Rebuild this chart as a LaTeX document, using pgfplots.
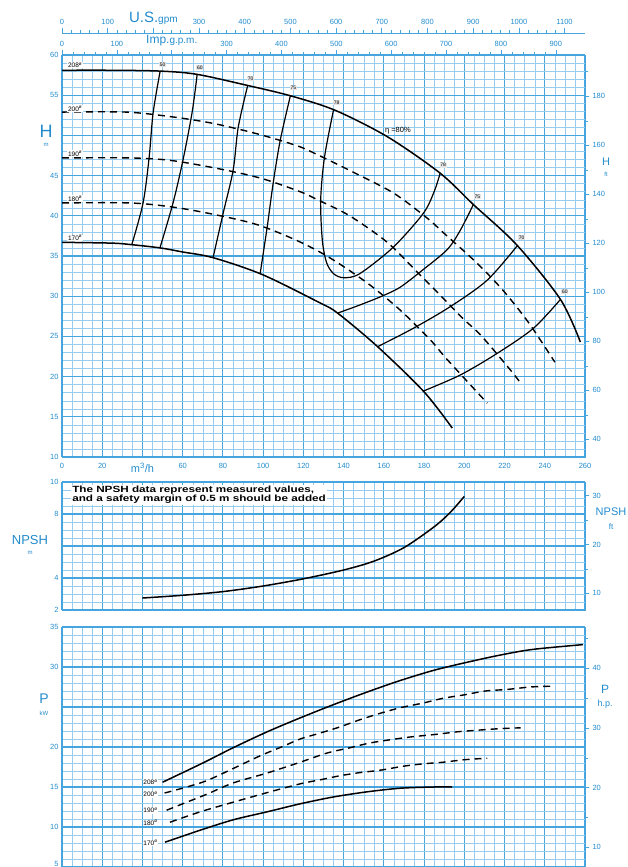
\documentclass[border=0pt]{standalone}
\usepackage{pgfplots}
\pgfplotsset{compat=1.18}
\usepackage{fontspec}
\setmainfont{Liberation Sans}

\definecolor{gmaj}{RGB}{70,165,222}
\definecolor{gmin}{RGB}{150,205,238}
\definecolor{lbl}{RGB}{35,140,205}

\tikzset{
  lab/.style={font=\fontsize{6.5}{6.5}\selectfont, fill=white, inner sep=0.8pt},
  elab/.style={font=\fontsize{5}{5}\selectfont, fill=gray!20, inner sep=0.7pt},
}
\pgfplotsset{
  panel/.style={
    scale only axis, width=523pt, xmin=0, xmax=260,
    grid=both,
    major grid style={draw=gmaj, line width=1.05pt},
    minor grid style={draw=gmin, line width=0.4pt},
    axis line style={draw=gmaj, line width=0.9pt},
    major tick length=0pt, minor tick length=0pt,
    xtick={0,20,...,260}, minor x tick num=3,
    xtick pos=bottom, ytick pos=left,
    ticklabel style={font=\fontsize{7.5}{8}\selectfont, text=lbl},
    xticklabel style={yshift=-2.5pt},
    clip mode=individual,
  },
  side/.style={
    scale only axis, width=523pt, xmin=0, xmax=260,
    axis x line=none, axis y line*=right,
    axis line style={draw=none},
    tick align=outside, major tick length=4pt, minor tick length=3pt,
    tick style={draw=gmaj, line width=0.6pt},
    ticklabel style={font=\fontsize{7.5}{8}\selectfont, text=lbl},
  },
  topscale/.style={
    scale only axis, width=523pt, height=20pt, ymin=0, ymax=1,
    axis x line*=top, axis y line=none,
    axis line style={draw=gmaj, line width=0.8pt},
    tick align=outside, major tick length=5pt, minor tick length=3pt,
    tick style={draw=gmaj, line width=0.6pt},
    minor x tick num=4,
    ticklabel style={font=\fontsize{7.5}{8}\selectfont, text=lbl},
  },
  head/.style={black, line width=1.5pt, smooth},
  headd/.style={black, line width=1.4pt, smooth, dash pattern=on 7pt off 5pt},
  eff/.style={black, line width=1.2pt, smooth},
}

\begin{document}
\begin{tikzpicture}[x=1pt,y=1pt]
\useasboundingbox (0,0) rectangle (627,-867);

% ---- flow scales on top
\begin{axis}[topscale, at={(62pt,-33pt)}, anchor=north west,
  xmin=0, xmax=1144.8, xtick={0,100,...,1100},
  xticklabels={0,100,{\fontsize{15}{15}\selectfont U.S.\fontsize{10}{10}\selectfont gpm},300,400,500,600,700,800,900,1000,1100}]
\end{axis}
\begin{axis}[topscale, at={(62pt,-55pt)}, anchor=north west,
  xmin=0, xmax=953.2, xtick={0,100,...,900},
  xticklabels={0,100,{\fontsize{12}{12}\selectfont Imp.\fontsize{10}{10}\selectfont g.p.m.},300,400,500,600,700,800,900}]
\end{axis}

% ---- head
\begin{axis}[panel, at={(62pt,-457pt)}, anchor=south west, height=402pt,
  ymin=10, ymax=60, ytick={10,15,...,60},
  yticklabels={10,15,20,25,30,35,40,45,,55,60}, minor y tick num=4,
  xticklabels={0,20,{\fontsize{11}{11}\selectfont m\textsuperscript{3}/h},60,80,100,120,140,160,180,200,220,240,260}]
% head curves
\addplot[head] coordinates {(0,58.1) (25,58.1) (48.8,58.0) (67,57.6) (92.5,56.2) (114,54.9) (136,53.1) (162,49.8) (188,45.3) (204.5,41.4) (226,36.4) (247.8,29.6) (257.7,24.3)};
\addplot[headd] coordinates {(0,52.9) (32,52.9) (55,52.3) (75,51.5) (97,50.2) (117,48.7) (127,47.6) (145,45.4) (165,42.8) (181.6,39.7) (189.6,37.9) (205.5,34.3) (219,30.8) (232,26.7) (245,21.8)};
\addplot[headd] coordinates {(0,47.2) (33.8,47.2) (53.7,46.9) (77,45.9) (98.5,44.7) (118.4,43.0) (127,42.0) (143,40.0) (161.7,36.7) (176.6,33.0) (184.6,31.0) (199,27.3) (208,25.2) (222,21.1) (228,19.2)};
\addplot[headd] coordinates {(0,41.6) (33.8,41.6) (54.7,41.1) (75,40.2) (97,38.9) (117,36.9) (133,34.8) (152,31.6) (168,28.3) (183,24.6) (190.5,22.4) (205.5,18.3) (211.4,16.7)};
\addplot[head] coordinates {(0,36.7) (25,36.6) (35,36.4) (49,36.0) (60,35.5) (75,34.8) (99.5,32.7) (128,29.2) (137,27.9) (157,23.7) (180,18.1) (194,13.6)};
% efficiency
\addplot[eff] coordinates {(48.8,58.0) (45.3,52.8) (43.3,47.2) (40.3,41.6) (34.8,36.5)};
\addplot[eff] coordinates {(67.2,57.6) (64.7,52.9) (60.2,47.0) (55.2,41.6) (48.8,36.1)};
\addplot[eff] coordinates {(92.3,56.2) (87.6,51.0) (85.1,45.7) (80.1,40.3) (75.1,34.8)};
\addplot[eff] coordinates {(113.6,55.0) (108.5,49.4) (105.0,44.1) (102.0,38.6) (98.5,32.8)};
\addplot[eff] coordinates {(135,53.2) (130.5,47.3) (128.6,42.0) (129.4,37.0) (131.5,34.2) (135,32.8) (140,32.3) (148,32.8) (164.7,36.1) (179.6,40.3) (185,43.0) (188,45.3)};
\addplot[eff] coordinates {(204.5,41.4) (198,38.2) (191.5,35.8) (179,33.2) (168,31.1) (159,30.0) (148,28.9) (137,27.9)};
\addplot[eff] coordinates {(226.4,36.3) (211.4,32.0) (193,28.7) (174.6,26.0) (156.7,23.7)};
\addplot[eff] coordinates {(247.8,29.6) (234.3,26.0) (216.4,22.9) (198,20.2) (179.6,18.2)};
% labels
\node[lab, anchor=south west] at (axis cs:2.5,58.3) {208\textsuperscript{ø}};
\node[lab, anchor=south west] at (axis cs:2.5,52.9) {200\textsuperscript{ø}};
\node[lab, anchor=south west] at (axis cs:2.5,47.3) {190\textsuperscript{ø}};
\node[lab, anchor=south west] at (axis cs:2.5,41.7) {180\textsuperscript{ø}};
\node[lab, anchor=south west] at (axis cs:2.5,36.8) {170\textsuperscript{ø}};
\node[elab] at (axis cs:50,58.8) {50};
\node[elab] at (axis cs:68.5,58.4) {60};
\node[elab] at (axis cs:93.8,57.1) {70};
\node[elab] at (axis cs:115,55.9) {75};
\node[elab] at (axis cs:136.5,54.1) {78};
\node[anchor=west, font=\fontsize{7.5}{7.5}\selectfont, inner sep=0pt] at (axis cs:160.5,50.6) {η =80\%};
\node[elab] at (axis cs:189.5,46.3) {78};
\node[elab] at (axis cs:206.5,42.4) {75};
\node[elab] at (axis cs:228.5,37.3) {70};
\node[elab] at (axis cs:250,30.6) {60};
\end{axis}
\begin{axis}[side, at={(62pt,-457pt)}, anchor=south west, height=402pt,
  ymin=32.808, ymax=196.85, ytick={40,60,...,180}, minor ytick={50,70,...,190},
  yticklabels={40,60,80,100,120,140,160,180}]
\end{axis}

% ---- NPSH
\begin{axis}[panel, at={(62pt,-610pt)}, anchor=south west, height=128pt,
  ymin=2, ymax=10, ytick={2,4,...,10}, yticklabels={2,4,,8,10},
  minor y tick num=3, xticklabels={}]
\addplot[head] coordinates {(40,2.75) (60,2.92) (80,3.15) (100,3.5) (120,3.95) (140,4.5) (155,5.05) (170,5.9) (185,7.2) (193,8.1) (200,9.1)};
\node[anchor=north west, fill=white, inner sep=1pt, align=left,
  font=\fontsize{9}{9.5}\selectfont\bfseries] at (axis cs:4.5,9.85)
  {\scalebox{1.3}[1]{The NPSH data represent measured values,}\\\scalebox{1.3}[1]{and a safety margin of 0.5 m should be added}};
\end{axis}
\begin{axis}[side, at={(62pt,-610pt)}, anchor=south west, height=128pt,
  ymin=6.5617, ymax=32.808, ytick={10,20,30}, minor ytick={15,25},
  yticklabels={10,20,30}]
\end{axis}

% ---- power
\begin{axis}[panel, at={(62pt,-867pt)}, anchor=south west, height=240pt,
  ymin=5, ymax=35, ytick={5,10,...,35}, yticklabels={{\raisebox{7pt}{5}},10,15,20,,30,35},
  minor y tick num=4, xticklabels={}]
\addplot[head] coordinates {(50,15.6) (70,18.0) (85,19.9) (102,21.9) (118,23.6) (135,25.3) (152,26.9) (168,28.3) (185,29.6) (201.5,30.6) (218,31.5) (234,32.2) (259,32.8)};
\addplot[headd] coordinates {(51,14.25) (62,15.0) (72,15.8) (85,17.3) (98.5,18.9) (110,20.1) (118.4,21.0) (128.4,21.75) (138,22.5) (148,23.4) (158,24.2) (168,24.9) (179.6,25.5) (189.6,26.1) (199.5,26.5) (210.4,27.0) (221.4,27.2) (232.8,27.5) (242.8,27.6)};
\addplot[headd] coordinates {(52,12.1) (62,13.1) (72,14.1) (85,15.5) (102,16.75) (118.4,18.1) (131.8,19.25) (143,19.9) (153,20.5) (163,20.9) (173,21.25) (186.6,21.6) (196.5,21.9) (206.5,22.1) (218,22.3) (228,22.4)};
\addplot[headd] coordinates {(53.7,10.6) (68.7,11.9) (85.1,13.1) (102,14.3) (118.4,15.4) (128.4,15.9) (138,16.4) (148,16.8) (158.2,17.1) (169.7,17.6) (179.6,17.9) (189.6,18.1) (199.5,18.4) (211.4,18.6)};
\addplot[head] coordinates {(51.2,8.1) (68.7,9.6) (85.1,10.9) (102,11.9) (118.4,12.9) (134.8,13.75) (151.7,14.4) (168.2,14.85) (184.6,15.0) (194,15.0)};
\node[lab, anchor=east] at (axis cs:48,15.6) {208\textsuperscript{ø}};
\node[lab, anchor=east] at (axis cs:48,14.1) {200\textsuperscript{ø}};
\node[lab, anchor=east] at (axis cs:48,12.1) {190\textsuperscript{ø}};
\node[lab, anchor=east] at (axis cs:48,10.5) {180\textsuperscript{ø}};
\node[lab, anchor=east] at (axis cs:48,8.0) {170\textsuperscript{ø}};
\end{axis}
\begin{axis}[side, at={(62pt,-867pt)}, anchor=south west, height=240pt,
  ymin=6.705, ymax=46.94, ytick={10,20,30,40}, minor ytick={15,25,35,45},
  yticklabels={10,20,30,40}]
\end{axis}

% ---- axis names
\begin{scope}[text=lbl]
\node[font=\fontsize{18}{18}\selectfont] at (46,-131) {H};
\node[font=\fontsize{6}{6}\selectfont] at (46,-145) {m};
\node[font=\fontsize{11}{11}\selectfont] at (606,-162) {H};
\node[font=\fontsize{6}{6}\selectfont] at (606,-174) {ft};
\node[font=\fontsize{13}{13}\selectfont] at (30,-540) {NPSH};
\node[font=\fontsize{6}{6}\selectfont] at (30,-553) {m};
\node[font=\fontsize{11}{11}\selectfont, anchor=east, inner sep=0.5pt] at (627,-512) {NPSH};
\node[font=\fontsize{8}{8}\selectfont] at (611,-527) {ft};
\node[font=\fontsize{14}{14}\selectfont] at (44,-699) {P};
\node[font=\fontsize{6}{6}\selectfont] at (44,-713) {kW};
\node[font=\fontsize{12}{12}\selectfont] at (605,-689) {P};
\node[font=\fontsize{9}{9}\selectfont] at (605,-704) {h.p.};
\end{scope}
\end{tikzpicture}
\end{document}
